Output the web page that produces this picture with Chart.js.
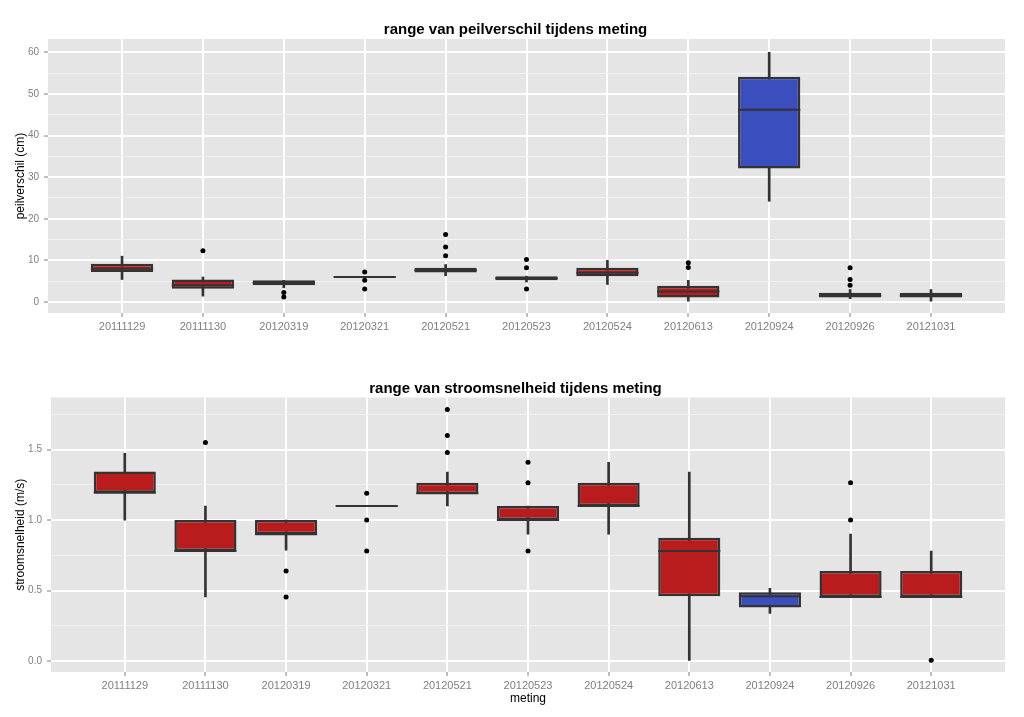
<!DOCTYPE html>
<html>
<head>
<meta charset="utf-8">
<title>range van peilverschil en stroomsnelheid tijdens meting</title>
<script src="https://cdn.jsdelivr.net/npm/chart.js@4.4.0/dist/chart.umd.min.js"></script>
<style>
  html, body { margin: 0; padding: 0; background: #fff; }
  canvas { position: absolute; left: 0; }
  #peilChart { top: 0; }
  #stroomChart { top: 345px; }
</style>
</head>
<body>
<canvas id="peilChart" width="1024" height="345"></canvas>
<canvas id="stroomChart" width="1024" height="372"></canvas>

<script>
// meetdagen (x-as)
const categories = ['20111129', '20111130', '20120319', '20120321', '20120521', '20120523',
                    '20120524', '20120613', '20120924', '20120926', '20121031'];
const blueCategory = '20120924';

// peilverschil (cm): whisker min, q1, mediaan, q3, whisker max, uitschieters
const peilMin    = [5.4, 1.4, 3.4, 6, 6.3, 4.8, 4.2, 0.2, 24.2, 0.8, 0.2];
const peilQ1     = [7.2, 3.2, 4.0, 6, 7.1, 5.2, 6.2, 1.1, 32.1, 1.1, 1.1];
const peilMedian = [8.0, 4.0, 4.6, 6, 7.6, 5.7, 7.0, 2.5, 46.2, 1.5, 1.5];
const peilQ3     = [9.2, 5.4, 5.2, 6, 8.2, 6.2, 8.2, 3.9, 54.1, 2.2, 2.2];
const peilMax    = [11, 6, 5.2, 6, 9, 6.2, 10, 5.2, 60, 3, 3];
const peilOutliers = [[], [12.3], [2.3, 1.2], [7.2, 5.2, 3.1], [16.2, 13.2, 11.1],
                      [10.2, 8.2, 3.1], [], [9.4, 8.3], [], [8.2, 5.4, 4.0], []];
const peilTicks = [0, 5, 10, 15, 20, 25, 30, 35, 40, 45, 50, 55, 60];

// stroomsnelheid (m/s)
const stroomMin    = [1.0, 0.455, 0.787, 1.1, 1.10, 0.90, 0.90, 0.005, 0.337, 0.455, 0.455];
const stroomQ1     = [1.194, 0.78, 0.90, 1.1, 1.185, 1.0, 1.10, 0.46, 0.38, 0.455, 0.455];
const stroomMedian = [1.194, 0.78, 0.90, 1.1, 1.19, 1.0, 1.10, 0.78, 0.46, 0.455, 0.455];
const stroomQ3     = [1.344, 1.0, 1.0, 1.1, 1.265, 1.10, 1.265, 0.875, 0.488, 0.638, 0.638];
const stroomMax    = [1.474, 1.1, 1.0, 1.1, 1.34, 1.10, 1.41, 1.34, 0.515, 0.90, 0.78];
const stroomOutliers = [[], [1.55], [0.638, 0.455], [1.19, 1.0, 0.78], [1.785, 1.60, 1.48],
                        [1.41, 1.265, 0.78], [], [], [], [1.265, 1.0], [0.005]];
const stroomTicks = [0, 0.25, 0.5, 0.75, 1.0, 1.25, 1.5, 1.75];

const PANEL = '#E5E5E5';
const RED = '#B81C1C';
const BLUE = '#3A4EBE';
const EDGE = '#333333';
const GREY = '#7F7F7F';
const PAD_LEFT = 26;

Chart.defaults.font.family = '"Liberation Sans", Arial, sans-serif';
Chart.defaults.animation = false;

// grijs paneel + mediaanlijnen
const boxplotPlugin = {
  id: 'boxplot',
  beforeDraw(chart) {
    const a = chart.chartArea;
    const ctx = chart.ctx;
    ctx.save();
    ctx.fillStyle = PANEL;
    ctx.fillRect(a.left, a.top, a.right - a.left, a.bottom - a.top);
    ctx.restore();
  },
  afterDatasetDraw(chart, args) {
    const ds = chart.data.datasets[args.index];
    if (!ds.medians) return;
    const yScale = chart.scales.y;
    const ctx = chart.ctx;
    ctx.save();
    ctx.strokeStyle = EDGE;
    ctx.lineWidth = 2;
    args.meta.data.forEach(function(bar, i) {
      const py = yScale.getPixelForValue(ds.medians[i]);
      ctx.beginPath();
      ctx.moveTo(bar.x - bar.width / 2, py);
      ctx.lineTo(bar.x + bar.width / 2, py);
      ctx.stroke();
    });
    ctx.restore();
  }
};

function boxColor(ctx) {
  return categories[ctx.dataIndex] === blueCategory ? BLUE : RED;
}

function drawPanel(p) {
  const whiskers = categories.map((c, i) => ({x: i, y: [p.min[i], p.max[i]]}));
  const boxes = categories.map((c, i) => ({x: i, y: [p.q1[i], p.q3[i]]}));
  const points = [];
  p.outliers.forEach((list, i) => list.forEach(v => points.push({x: i, y: v})));

  const isMajor = v => Math.abs(v / p.major - Math.round(v / p.major)) < 1e-6;

  return new Chart(document.getElementById(p.id), {
    type: 'bar',
    data: {
      datasets: [
        {
          data: whiskers,
          backgroundColor: EDGE,
          barThickness: 2,
          grouped: false,
          order: 3
        },
        {
          data: boxes,
          medians: p.median,
          backgroundColor: boxColor,
          borderColor: EDGE,
          borderWidth: 2.5,
          borderSkipped: false,
          barPercentage: 0.77,
          categoryPercentage: 1,
          grouped: false,
          order: 2
        },
        {
          type: 'scatter',
          data: points,
          backgroundColor: '#000',
          borderWidth: 0,
          pointRadius: 2.5,
          order: 1
        }
      ]
    },
    options: {
      responsive: false,
      layout: { padding: { left: PAD_LEFT, right: 19, top: 0, bottom: 0 } },
      plugins: {
        legend: { display: false },
        tooltip: { enabled: false },
        title: {
          display: true,
          text: p.title,
          color: '#000',
          font: { size: 15, weight: 'bold' },
          padding: { top: p.titleTop, bottom: 0 }
        }
      },
      scales: {
        x: {
          type: 'linear',
          min: -0.915,
          max: categories.length - 1 + 0.915,
          offset: false,
          afterBuildTicks: s => { s.ticks = categories.map((c, i) => ({value: i})); },
          afterFit: s => { s.height = p.xHeight; },
          grid: { offset: false, color: '#FFFFFF', lineWidth: 2, tickColor: GREY, tickLength: 4, tickWidth: 1 },
          border: { display: false },
          ticks: {
            color: GREY, font: { size: 11 }, padding: 3, maxRotation: 0, autoSkip: false,
            callback: v => categories[v]
          },
          title: {
            display: !!p.xTitle, text: p.xTitle, color: '#000', font: { size: 12 },
            padding: { top: 0, bottom: 11 }
          }
        },
        y: {
          type: 'linear',
          min: p.yMin,
          max: p.yMax,
          afterBuildTicks: s => { s.ticks = p.ticks.map(v => ({value: v})); },
          afterFit: s => { s.width = p.plotLeft - PAD_LEFT; },
          grid: {
            color: c => isMajor(c.tick.value) ? '#FFFFFF' : '#F2F2F2',
            lineWidth: c => isMajor(c.tick.value) ? 2 : 1,
            tickColor: c => isMajor(c.tick.value) ? GREY : 'rgba(0,0,0,0)',
            tickLength: 4,
            tickWidth: 1
          },
          border: { display: false },
          ticks: {
            color: GREY, font: { size: 10 }, padding: 5, autoSkip: false,
            callback: v => isMajor(v) ? v.toFixed(p.decimals) : ''
          },
          title: {
            display: true, text: p.yTitle, color: '#000', font: { size: 12 },
            // title centre sits left of the axis box, at x = 20.5
            padding: { top: 20.5 - 7.2 - PAD_LEFT, bottom: 0 }
          }
        }
      }
    },
    plugins: [boxplotPlugin]
  });
}

drawPanel({
  id: 'peilChart',
  title: 'range van peilverschil tijdens meting',
  yTitle: 'peilverschil (cm)',
  xTitle: '',
  min: peilMin, q1: peilQ1, median: peilMedian, q3: peilQ3, max: peilMax, outliers: peilOutliers,
  ticks: peilTicks, major: 10, decimals: 0,
  yMin: -2.65, yMax: 63.2,
  plotLeft: 48, xHeight: 32, titleTop: 21
});

drawPanel({
  id: 'stroomChart',
  title: 'range van stroomsnelheid tijdens meting',
  yTitle: 'stroomsnelheid (m/s)',
  xTitle: 'meting',
  min: stroomMin, q1: stroomQ1, median: stroomMedian, q3: stroomQ3, max: stroomMax, outliers: stroomOutliers,
  ticks: stroomTicks, major: 0.5, decimals: 1,
  yMin: -0.078, yMax: 1.87,
  plotLeft: 51, xHeight: 45, titleTop: 34.5
});
</script>
</body>
</html>
